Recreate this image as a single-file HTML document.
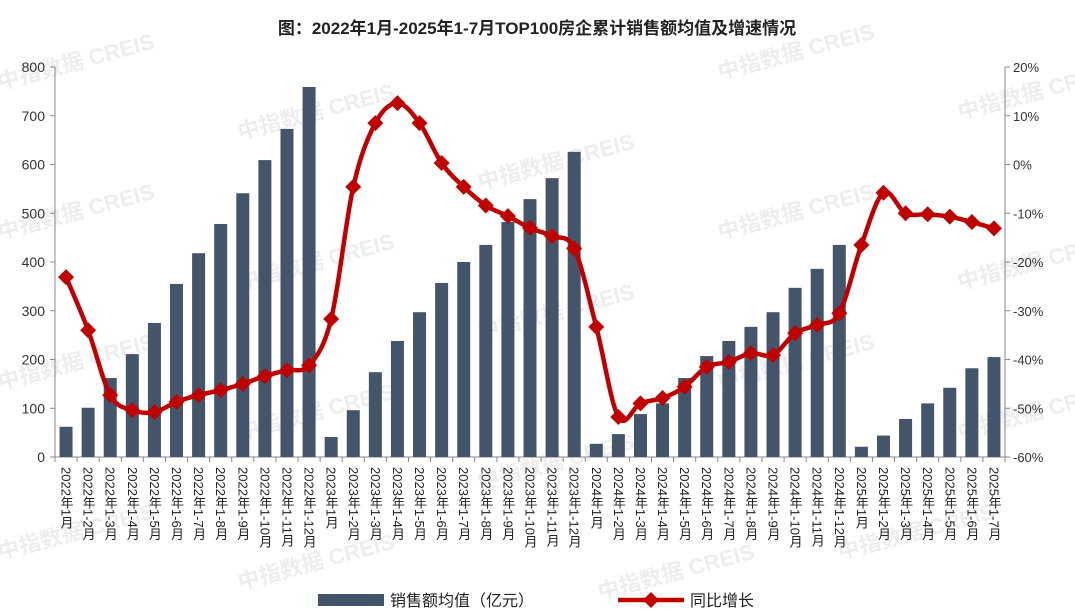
<!DOCTYPE html>
<html><head><meta charset="utf-8">
<style>
html,body{margin:0;padding:0;background:#fff;}
body{width:1075px;height:615px;overflow:hidden;position:relative;font-family:"Liberation Sans","Noto Sans CJK SC",sans-serif;}
svg{position:absolute;left:0;top:0;}
</style></head>
<body>
<svg id="chart" width="1075" height="615" font-family="Liberation Sans, Noto Sans CJK SC, sans-serif"></svg>
<script>
const categories = [
"2022年1月","2022年1-2月","2022年1-3月","2022年1-4月","2022年1-5月","2022年1-6月","2022年1-7月","2022年1-8月","2022年1-9月","2022年1-10月","2022年1-11月","2022年1-12月",
"2023年1月","2023年1-2月","2023年1-3月","2023年1-4月","2023年1-5月","2023年1-6月","2023年1-7月","2023年1-8月","2023年1-9月","2023年1-10月","2023年1-11月","2023年1-12月",
"2024年1月","2024年1-2月","2024年1-3月","2024年1-4月","2024年1-5月","2024年1-6月","2024年1-7月","2024年1-8月","2024年1-9月","2024年1-10月","2024年1-11月","2024年1-12月",
"2025年1月","2025年1-2月","2025年1-3月","2025年1-4月","2025年1-5月","2025年1-6月","2025年1-7月"];
const salesAvg = [62,101,162,211,275,355,418,478,541,609,673,759,
41,96,174,238,297,357,400,435,482,529,572,626,
27,47,88,110,162,207,238,267,297,347,386,435,
21,44,78,110,142,182,205];
const yoyGrowth = [-23.1,-34,-47.3,-50.4,-50.8,-48.7,-47.3,-46.3,-45,-43.4,-42.2,-41.2,
-31.7,-4.6,8.5,12.6,8.5,0.3,-4.6,-8.4,-10.6,-13,-14.7,-17.2,
-33.3,-51.8,-49,-47.9,-45.6,-41.5,-40.5,-38.7,-39.1,-34.6,-32.9,-30.5,
-16.5,-5.8,-10,-10.2,-10.7,-11.8,-13.1];
const leftTicks = [0,100,200,300,400,500,600,700,800];
const rightTicks = [-60,-50,-40,-30,-20,-10,0,10,20];

const NS="http://www.w3.org/2000/svg";
const svg=document.getElementById('chart');
const X0=55,X1=1005,Y0=457,Y1=67;
const band=(X1-X0)/categories.length;
const xc=i=>X0+band*(i+0.5);
const yL=v=>Y0-(v-0)/(800-0)*(Y0-Y1);
const yR=v=>Y0-(v+60)/80*(Y0-Y1);
function mk(tag,attrs,parent){const e=document.createElementNS(NS,tag);for(const k in attrs)e.setAttribute(k,attrs[k]);(parent||svg).appendChild(e);return e;}

// watermarks
const wm=[[0,90],[240,140],[480,190],[720,240],[960,290],[0,240],[240,290],[480,340],[720,80],[960,120],[0,390],[240,440],[480,490],[720,390],[960,440],[0,560],[240,590],[600,600],[840,560]];
wm.forEach(p=>{const t=mk('text',{x:p[0],y:p[1],fill:'#000','fill-opacity':'0.07','font-size':'22','font-weight':'bold',transform:`rotate(-15 ${p[0]} ${p[1]})`});


t.textContent='中指数据  CREIS';});

// title
const title=mk('text',{x:537,y:34,'text-anchor':'middle','font-size':'17','font-weight':'bold',fill:'#222'});


title.textContent='图：2022年1月-2025年1-7月TOP100房企累计销售额均值及增速情况';

// axes
const axL=mk('line',{x1:X0,y1:Y1,x2:X0,y2:Y0,stroke:'#888','stroke-width':1});


const axR=mk('line',{x1:X1,y1:Y1,x2:X1,y2:Y0,stroke:'#888','stroke-width':1});


const axX=mk('line',{x1:X0,y1:Y0,x2:X1,y2:Y0,stroke:'#888','stroke-width':1});



leftTicks.forEach(v=>{const y=yL(v);
mk('line',{x1:X0-5,y1:y,x2:X0,y2:y,stroke:'#888'});
const t=mk('text',{x:X0-10,y:y+5,'text-anchor':'end','font-size':'14',fill:'#333'});


t.textContent=v;});
rightTicks.forEach(v=>{const y=yR(v);
mk('line',{x1:X1,y1:y,x2:X1+5,y2:y,stroke:'#888'});
const t=mk('text',{x:X1+8,y:y+5,'text-anchor':'start','font-size':'13',fill:'#333'});


t.textContent=v+'%';});

// bars
categories.forEach((c,i)=>{
mk('line',{x1:X0+band*i,y1:Y0,x2:X0+band*i,y2:Y0+5,stroke:'#888'});
const w=13,y=yL(salesAvg[i]);
const r=mk('rect',{x:xc(i)-w/2,y:y,width:w,height:Y0-y,fill:'#44546a'});


const t=mk('text',{x:xc(i),y:467,'font-size':'13',fill:'#222',style:'writing-mode:vertical-rl;glyph-orientation-vertical:auto'});


t.textContent=c;
});
mk('line',{x1:X1,y1:Y0,x2:X1,y2:Y0+5,stroke:'#888'});

// line (smooth)
const pts=yoyGrowth.map((v,i)=>[xc(i),yR(v)]);
let d='M'+pts[0][0]+','+pts[0][1];
for(let i=0;i<pts.length-1;i++){
const p0=pts[Math.max(0,i-1)],p1=pts[i],p2=pts[i+1],p3=pts[Math.min(pts.length-1,i+2)];
const t=6;
d+=` C${p1[0]+(p2[0]-p0[0])/t},${p1[1]+(p2[1]-p0[1])/t} ${p2[0]-(p3[0]-p1[0])/t},${p2[1]-(p3[1]-p1[1])/t} ${p2[0]},${p2[1]}`;}
const ln=mk('path',{d:d,fill:'none',stroke:'#c00000','stroke-width':4.5,'stroke-linejoin':'round'});


pts.forEach((p,i)=>{const s=8;
const m=mk('polygon',{points:`${p[0]},${p[1]-s} ${p[0]+s},${p[1]} ${p[0]},${p[1]+s} ${p[0]-s},${p[1]}`,fill:'#c00000'});

});

// legend
const lg=mk('g',{});


const sw=mk('rect',{x:318,y:594,width:66,height:12,fill:'#44546a'},lg);


const lt1=mk('text',{x:390,y:606,'font-size':'16',fill:'#222'},lg);


lt1.textContent='销售额均值（亿元）';
const ll=mk('line',{x1:618,y1:600,x2:684,y2:600,stroke:'#c00000','stroke-width':4.5},lg);


mk('polygon',{points:'651,592 659,600 651,608 643,600',fill:'#c00000'},lg);
const lt2=mk('text',{x:690,y:606,'font-size':'16',fill:'#222'},lg);


lt2.textContent='同比增长';
</script>
</body></html>
